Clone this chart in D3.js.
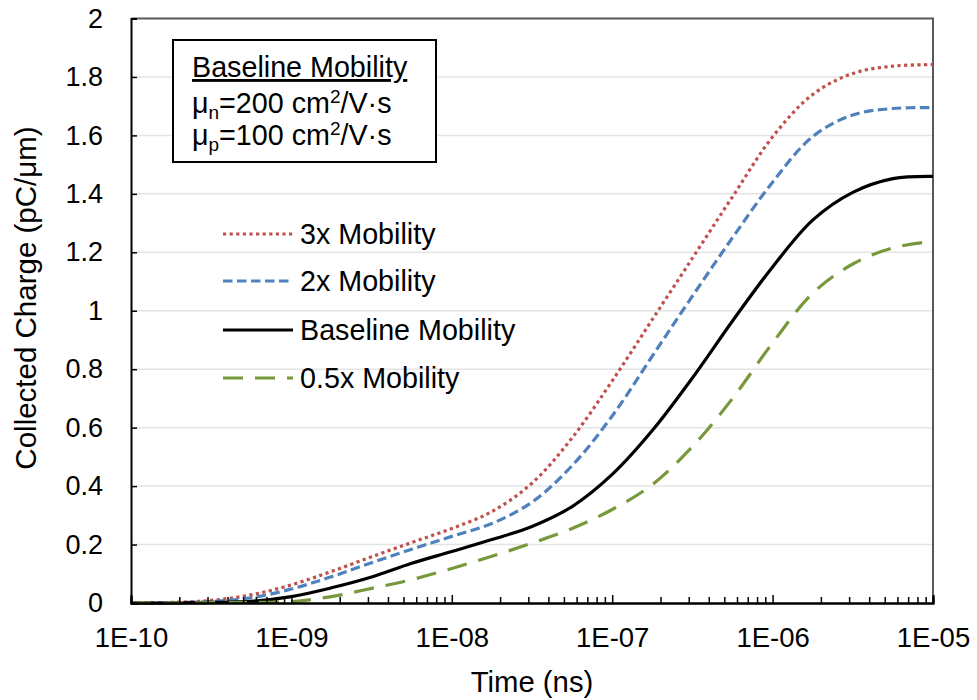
<!DOCTYPE html>
<html>
<head>
<meta charset="utf-8">
<script src="https://cdn.jsdelivr.net/npm/d3@7"></script>
<style>
    body { margin: 0; background: #fff; }
    svg text { font-family: "Liberation Sans", Arial, sans-serif; fill: #000; }
</style>
</head>
<body>
<div id="chart"></div>
<script>
// time samples (quarter decades)
const times = [1e-10, 1.778e-10, 3.162e-10, 5.623e-10,
    1e-9, 1.778e-9, 3.162e-9, 5.623e-9,
    1e-8, 1.778e-8, 3.162e-8, 5.623e-8,
    1e-7, 1.778e-7, 3.162e-7, 5.623e-7,
    1e-6, 1.778e-6, 3.162e-6, 5.623e-6, 1e-5];

const mob3x = [0, 0.002, 0.009, 0.028, 0.062, 0.108, 0.158, 0.207, 0.255, 0.313, 0.41,
    0.565, 0.76, 0.97, 1.18, 1.39, 1.595, 1.74, 1.812, 1.837, 1.842];
const mob2x = [0, 0.001, 0.005, 0.018, 0.048, 0.09, 0.138, 0.184, 0.228, 0.272, 0.345,
    0.47, 0.64, 0.845, 1.05, 1.25, 1.44, 1.596, 1.67, 1.692, 1.695];
const mobBase = [0, 0, 0.002, 0.006, 0.022, 0.052, 0.089, 0.136, 0.176, 0.217, 0.262,
    0.33, 0.44, 0.59, 0.77, 0.965, 1.15, 1.31, 1.405, 1.452, 1.46];
const mobHalf = [0, 0, 0.001, 0.002, 0.005, 0.022, 0.05, 0.08, 0.118, 0.16, 0.205,
    0.255, 0.32, 0.405, 0.535, 0.70, 0.89, 1.06, 1.16, 1.215, 1.238];

const seriesNames = ["3x Mobility", "2x Mobility", "Baseline Mobility", "0.5x Mobility"];
const seriesValues = [mob3x, mob2x, mobBase, mobHalf];

const xTickLabels = ["1E-10", "1E-09", "1E-08", "1E-07", "1E-06", "1E-05"];
const yTicks = [0, 0.2, 0.4, 0.6, 0.8, 1, 1.2, 1.4, 1.6, 1.8, 2];

const styles = [
    { color: "#C0504D", dash: "3.2,3.4" },
    { color: "#4F81BD", dash: "9.5,4.5" },
    { color: "#000000", dash: null },
    { color: "#77993C", dash: "20,12" }
];

const W = 977, H = 700;
const m = { left: 131, right: 933, top: 18.5, bottom: 603 };

let svg = d3.select("#chart").append("svg")
    .attr("width", W)
    .attr("height", H);

let x = d3.scaleLog().domain([1e-10, 1e-5]).range([m.left, m.right]);
let y = d3.scaleLinear().domain([0, 2]).range([m.bottom, m.top]);

// gridlines
svg.append("g")
    .selectAll("line")
    .data(yTicks.filter(d => d > 0 && d < 2))
    .enter().append("line")
    .attr("x1", m.left).attr("x2", m.right)
    .attr("y1", d => y(d)).attr("y2", d => y(d))
    .style("stroke", "#E4E4E4")
    .style("stroke-width", 1.5);

// plot border top / right
svg.append("path")
    .attr("d", `M${m.left},${m.top}H${m.right}V${m.bottom}`)
    .style("fill", "none")
    .style("stroke", "#595959")
    .style("stroke-width", 2);

// series
let line = d3.line()
    .x((d, i) => x(times[i]))
    .y(d => y(d))
    .curve(d3.curveCatmullRom.alpha(0.5));

svg.append("g")
    .selectAll("path")
    .data(seriesValues)
    .enter().append("path")
    .attr("d", d => line(d))
    .style("fill", "none")
    .style("stroke", (d, i) => styles[i].color)
    .style("stroke-width", 3.2)
    .style("stroke-dasharray", (d, i) => styles[i].dash);

// x axis with minor ticks inside
let minor = [];
for (let e = -10; e < -5; e++) {
    for (let k = 2; k <= 9; k++) minor.push(k * Math.pow(10, e));
}
let gx = svg.append("g")
    .attr("transform", `translate(0,${m.bottom})`)
    .call(d3.axisBottom(x)
        .tickValues(minor)
        .tickSize(-6)
        .tickFormat(""));
let gxMajor = svg.append("g")
    .attr("transform", `translate(0,${m.bottom})`)
    .call(d3.axisBottom(x)
        .tickValues([1e-10, 1e-9, 1e-8, 1e-7, 1e-6, 1e-5])
        .tickSize(-8)
        .tickFormat((d, i) => xTickLabels[i]));
[gx, gxMajor].forEach(g => {
    g.select(".domain").style("stroke", "#000").style("stroke-width", 2);
    g.selectAll(".tick line").style("stroke", "#000").style("stroke-width", 1.5);
});
gxMajor.selectAll(".tick text")
    .style("font-size", "27.5px")
    .attr("dy", "0.35em")
    .attr("y", 34);

// y axis
let gy = svg.append("g")
    .attr("transform", `translate(${m.left},0)`)
    .call(d3.axisLeft(y)
        .tickValues(yTicks)
        .tickSize(-6)
        .tickPadding(28)
        .tickFormat(d3.format("")));
gy.select(".domain").style("stroke", "#000").style("stroke-width", 2);
gy.selectAll(".tick line").style("stroke", "#000").style("stroke-width", 1.5);
gy.selectAll(".tick text").style("font-size", "27px");

// axis titles
svg.append("text")
    .attr("x", 532).attr("y", 692)
    .attr("text-anchor", "middle")
    .style("font-size", "29.3px")
    .text("Time (ns)");
svg.append("text")
    .attr("transform", "translate(36,298) rotate(-90)")
    .attr("text-anchor", "middle")
    .style("font-size", "29.5px")
    .text("Collected Charge (pC/μm)");

// annotation box
svg.append("rect")
    .attr("x", 173).attr("y", 40)
    .attr("width", 263).attr("height", 122)
    .style("fill", "#fff")
    .style("stroke", "#000")
    .style("stroke-width", 2);

let note = svg.append("g").style("font-size", "28.7px");
note.append("text")
    .attr("x", 192).attr("y", 77)
    .style("text-decoration", "underline")
    .text("Baseline Mobility");

[["n", "200"], ["p", "100"]].forEach((d, i) => {
    let t = note.append("text").attr("x", 192).attr("y", 113 + i * 32);
    t.append("tspan").text("μ");
    t.append("tspan").attr("dy", 6).style("font-size", "19px").text(d[0]);
    t.append("tspan").attr("dy", -6).text("=" + d[1] + " cm");
    t.append("tspan").attr("dy", -10).style("font-size", "19px").text("2");
    t.append("tspan").attr("dy", 10).text("/V·s");
});

// legend
let legend = svg.append("g")
    .selectAll("g")
    .data(seriesNames)
    .enter().append("g")
    .attr("transform", (d, i) => `translate(223,${[234, 281, 330, 378][i]})`);

legend.append("line")
    .attr("x1", 0).attr("x2", 70)
    .style("stroke", (d, i) => styles[i].color)
    .style("stroke-width", 3.2)
    .style("stroke-dasharray", (d, i) => styles[i].dash);

legend.append("text")
    .attr("x", 77)
    .attr("dy", "0.35em")
    .style("font-size", "28.7px")
    .text(d => d);
</script>
</body>
</html>
